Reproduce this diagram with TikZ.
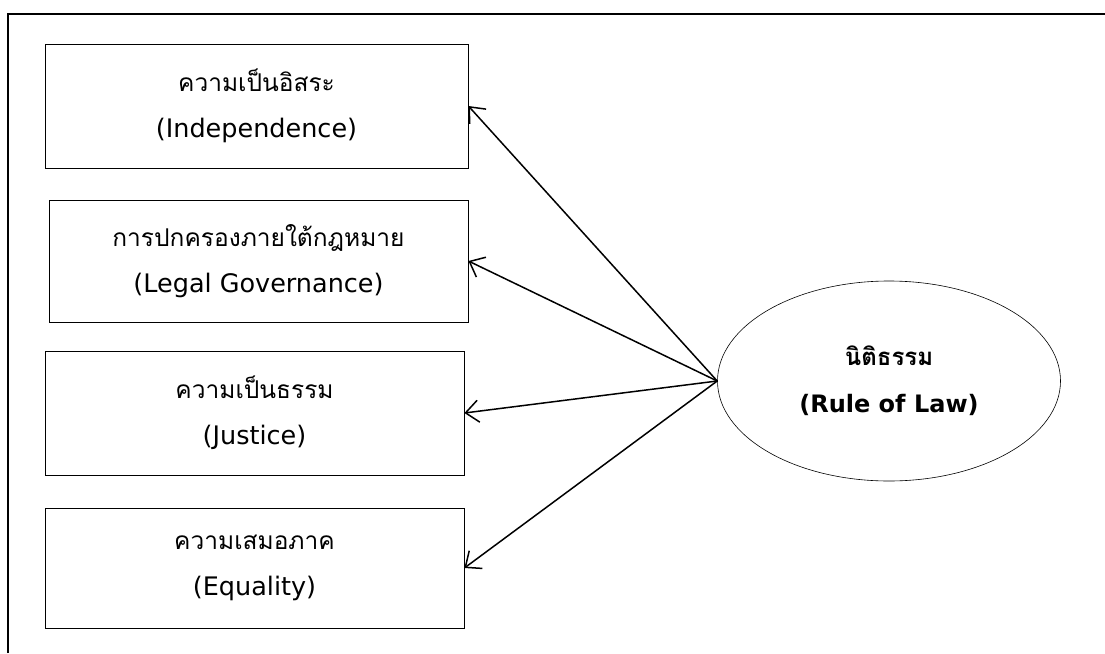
\documentclass[tikz,border=0pt]{standalone}
\usepackage{fontspec}
\usetikzlibrary{shapes.geometric, arrows.meta}
\newfontfamily\thaifont[Script=Thai]{Loma}
\newfontfamily\latinfont{DejaVu Sans}
\newcommand{\engtext}[1]{{\latinfont\fontsize{25.5}{46}\selectfont #1}}

\begin{document}
\begin{tikzpicture}[x = 1pt, y = -1pt,
    >={Straight Barb[length=13pt, width=22pt]},
    factor/.style = {draw, rectangle, line width = 0.8pt, align = center,
      font = \thaifont\fontsize{24.5}{46}\selectfont, inner sep = 0pt},
    core/.style = {draw, ellipse, line width = 0.6pt, align = center,
      font = \thaifont\bfseries\fontsize{24}{47}\selectfont, inner sep = 0pt}]
    \useasboundingbox (0,0) rectangle (1105,653);
    \draw [line width = 2pt] (8,653) -- (8,14) -- (1105,14);
    \node [factor, minimum width = 423, minimum height = 124]
      (indep) at (256.5,106) {ความเป็นอิสระ\\\engtext{(Independence)}};
    \node [factor, minimum width = 419, minimum height = 122]
      (legal) at (258.5,261) {การปกครองภายใต้กฎหมาย\\\engtext{(Legal Governance)}};
    \node [factor, minimum width = 419, minimum height = 124]
      (justice) at (254.5,413) {ความเป็นธรรม\\\engtext{(Justice)}};
    \node [factor, minimum width = 419, minimum height = 120]
      (equality) at (254.5,568) {ความเสมอภาค\\\engtext{(Equality)}};
    \node [core, minimum width = 343, minimum height = 200]
      (rol) at (889,381) {นิติธรรม\\{\latinfont\bfseries (Rule of Law)}};
    \draw [->, line width = 1.5pt] (rol.west) to (indep.east);
    \draw [->, line width = 1.5pt] (rol.west) to (legal.east);
    \draw [->, line width = 1.5pt] (rol.west) to (justice.east);
    \draw [->, line width = 1.5pt] (rol.west) to (equality.east);
  \end{tikzpicture}
\end{document}
